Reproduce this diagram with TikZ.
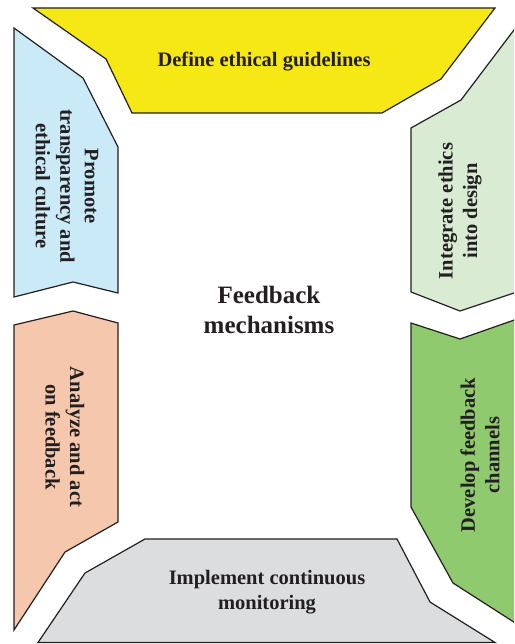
\documentclass[tikz,border=0pt]{standalone}
\usepackage{fontspec}
\setmainfont{Liberation Serif}
\begin{document}
\begin{tikzpicture}[x=1pt,y=-1pt,
  seg/.style={draw=edgecol,line width=1.2pt,line join=miter},
  lbl/.style={text=txtcol,align=center,inner sep=0pt,
    font=\fontsize{20.5}{24.5}\selectfont\bfseries},
  hub/.style={text=txtcol,align=center,inner sep=0pt,
    font=\fontsize{25}{30}\selectfont\bfseries}]
\definecolor{edgecol}{HTML}{231F20}
\definecolor{txtcol}{HTML}{231F20}
\definecolor{cYellow}{HTML}{F5E814}
\definecolor{cBlue}{HTML}{C9EAF6}
\definecolor{cPale}{HTML}{D9EBD3}
\definecolor{cGreen}{HTML}{8FCB6E}
\definecolor{cSalmon}{HTML}{F5C7AC}
\definecolor{cGray}{HTML}{DCDDDF}
\useasboundingbox (0,0) rectangle (514,644);
\clip (0,0) rectangle (514,644);

% ring of six segments
\path[seg,fill=cYellow] (33,8) -- (495,8) -- (441,79) -- (382,113)
  -- (132,113) -- (106,59) -- cycle;
\path[seg,fill=cBlue] (14,28) -- (83,78) -- (118,147) -- (118,293)
  -- (73,282) -- (14,297) -- cycle;
\path[seg,fill=cPale] (411,128) -- (461,100) -- (520,22) -- (520,291)
  -- (460,311) -- (411,292) -- cycle;
\path[seg,fill=cGreen] (411,323) -- (460,339) -- (520,318) -- (520,626)
  -- (453,583) -- (411,507) -- cycle;
\path[seg,fill=cSalmon] (14,325) -- (73,311) -- (118,323) -- (118,522)
  -- (65,552) -- (14,630) -- cycle;
\path[seg,fill=cGray] (145,539) -- (397,539) -- (430,602) -- (495,642.5)
  -- (38,642.5) -- (85,573) -- cycle;

% labels
\node[lbl] (define) at (264,62) {Define ethical guidelines};
\node[lbl,rotate=-90] (promote) at (67,186) {Promote\\transparency and\\ethical culture};
\node[lbl,rotate=90] (integrate) at (460,211) {Integrate ethics\\into design};
\node[lbl,rotate=90] (develop) at (480,455) {Develop feedback\\channels};
\node[lbl,rotate=-90] (analyze) at (65,437) {Analyze and act\\on feedback};
\node[lbl] (monitor) at (267,592) {Implement continuous\\monitoring};
\node[hub] (hub) at (269,310) {Feedback\\mechanisms};
\end{tikzpicture}
\end{document}
